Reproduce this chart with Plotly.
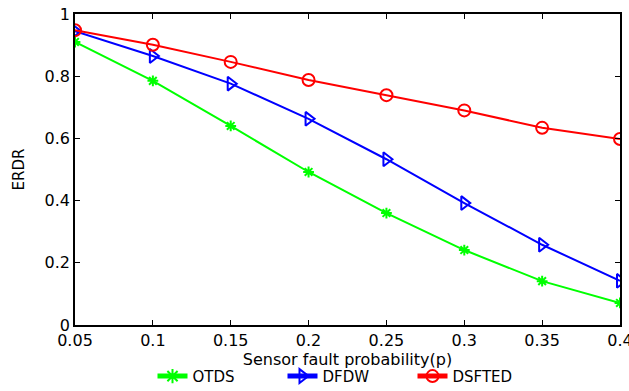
import plotly.graph_objects as go

p = [0.05, 0.1, 0.15, 0.2, 0.25, 0.3, 0.35, 0.4]
otds = [0.91, 0.785, 0.64, 0.492, 0.36, 0.241, 0.141, 0.071]
dfdw = [0.945, 0.865, 0.776, 0.663, 0.533, 0.392, 0.258, 0.142]
dsfted = [0.948, 0.901, 0.846, 0.788, 0.739, 0.69, 0.634, 0.598]
xticks = [0.05, 0.1, 0.15, 0.2, 0.25, 0.3, 0.35, 0.4]
xticklabels = ["0.05", "0.1", "0.15", "0.2", "0.25", "0.3", "0.35", "0.4"]
yticks = [0, 0.2, 0.4, 0.6, 0.8, 1]
yticklabels = ["0", "0.2", "0.4", "0.6", "0.8", "1"]

fig = go.Figure()
fig.add_trace(go.Scatter(x=p, y=otds, name="OTDS", mode="lines+markers",
                         line=dict(color="#00ff00", width=2),
                         marker=dict(symbol="asterisk-open", size=9, color="#00ff00",
                                     line=dict(color="#00ff00", width=2))))
fig.add_trace(go.Scatter(x=p, y=dfdw, name="DFDW", mode="lines+markers",
                         line=dict(color="#0000ff", width=2),
                         marker=dict(symbol="triangle-right-open", size=12, color="#0000ff", line=dict(width=2))))
fig.add_trace(go.Scatter(x=p, y=dsfted, name="DSFTED", mode="lines+markers",
                         line=dict(color="#ff0000", width=2),
                         marker=dict(symbol="circle-open", size=12, color="#ff0000", line=dict(width=2))))

font = "DejaVu Sans, Arial, sans-serif"
fig.update_layout(
    width=629, height=391,
    margin=dict(l=75, r=9, t=14, b=66, autoexpand=False),
    paper_bgcolor="white", plot_bgcolor="white",
    font=dict(family=font, size=16, color="black"),
    showlegend=True,
    legend=dict(orientation="h", x=0.5, xanchor="center", y=-0.112, yanchor="top",
                font=dict(size=15), bgcolor="rgba(0,0,0,0)", entrywidth=85,
                tracegroupgap=0, itemsizing="constant"),
    xaxis=dict(range=[0.05, 0.4], tickvals=xticks, ticktext=xticklabels,
               ticks="inside", ticklen=5, tickwidth=1, tickcolor="black",
               showline=True, linecolor="black", linewidth=1.5, mirror="ticks",
               showgrid=False, zeroline=False, ticklabeloverflow="allow",
               title=dict(text="Sensor fault probability(p)", standoff=0, font=dict(size=16))),
    yaxis=dict(range=[0, 1], tickvals=yticks, ticktext=yticklabels,
               ticks="inside", ticklen=5, tickwidth=1, tickcolor="black",
               showline=True, linecolor="black", linewidth=1.5, mirror="ticks",
               showgrid=False, zeroline=False, ticklabeloverflow="allow",
               title=dict(text="ERDR", standoff=16, font=dict(size=15))),
)
fig.write_html("out.html")
